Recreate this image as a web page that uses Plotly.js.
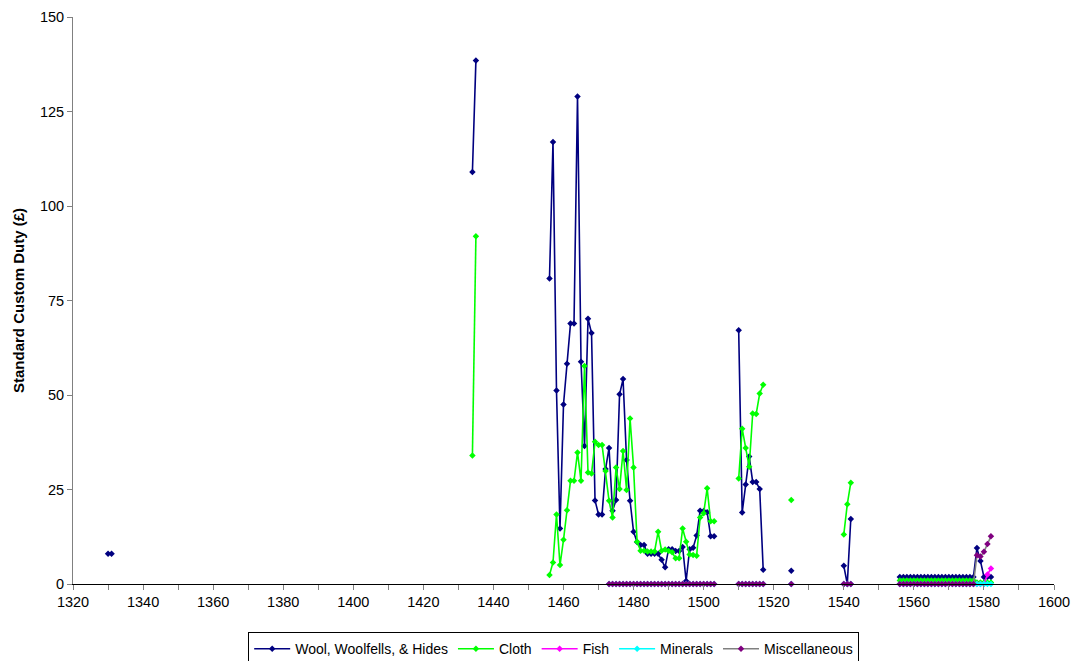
<!DOCTYPE html>
<html>
<head>
<meta charset="utf-8">
<script src="https://cdn.plot.ly/plotly-3.0.1.min.js"></script>
<style>html,body{margin:0;padding:0;background:#fff;}#chart{width:1082px;height:661px;}</style>
</head>
<body>
<div id="chart"></div>
<script>
// ---- Data ----
const woolYears = [1330,1331,1434,1435,
  1456,1457,1458,1459,1460,1461,1462,1463,1464,1465,1466,1467,1468,1469,1470,1471,1472,1473,1474,1475,1476,1477,1478,1479,1480,1481,1482,1483,1484,1485,1486,1487,1488,1489,1490,1491,1492,1493,1494,1495,1496,1497,1498,1499,1500,1501,1502,1503,
  1510,1511,1512,1513,1514,1515,1516,1517,1525,1540,1541,1542,
  1556,1557,1558,1559,1560,1561,1562,1563,1564,1565,1566,1567,1568,1569,1570,1571,1572,1573,1574,1575,1576,1577,1578,1579,1580,1581,1582];
const woolValues = [8,8,109,138.5,
  80.8,116.9,51.2,14.7,47.5,58.3,68.9,68.9,129,58.8,36.5,70.2,66.4,22.1,18.4,18.4,30.4,36.0,19.4,22.2,50.2,54.2,32.8,22.0,13.8,11.1,10.3,10.3,8.0,8.0,8.0,8.0,6.4,4.4,9.2,9.2,8.7,8.7,9.8,0.8,9.2,9.6,12.8,19.4,19.3,19.0,12.6,12.6,
  67.1,18.9,26.3,33.7,27.0,27.0,25.1,3.8,3.5,4.8,0,17.2,
  1.85,1.85,1.85,1.85,1.85,1.85,1.85,1.85,1.85,1.85,1.85,1.85,1.85,1.85,1.85,1.85,1.85,1.85,1.85,1.85,1.85,1.85,9.5,6.1,1.85,1.85,1.85];

const clothYears = [1434,1435,
  1456,1457,1458,1459,1460,1461,1462,1463,1464,1465,1466,1467,1468,1469,1470,1471,1472,1473,1474,1475,1476,1477,1478,1479,1480,1481,1482,1483,1484,1485,1486,1487,1488,1489,1490,1491,1492,1493,1494,1495,1496,1497,1498,1499,1500,1501,1502,1503,
  1510,1511,1512,1513,1514,1515,1516,1517,1525,1540,1541,1542,
  1556,1557,1558,1559,1560,1561,1562,1563,1564,1565,1566,1567,1568,1569,1570,1571,1572,1573,1574,1575,1576,1577,1578,1579,1580,1581,1582];
const clothValues = [34,92,
  2.4,5.7,18.4,5.0,11.7,19.5,27.3,27.3,34.8,27.3,57.7,29.5,29.2,37.6,36.8,36.8,29.9,22.0,17.6,30.8,25.1,35.2,24.9,43.8,30.8,11.2,8.8,8.8,8.6,8.6,8.6,13.8,8.8,9.1,8.7,8.4,6.8,6.8,14.7,11.2,7.8,7.7,7.5,17.6,18.7,25.3,16.6,16.6,
  27.9,41.1,36.0,31.0,45.1,45.0,50.4,52.7,22.2,13.1,21.1,26.8,
  0.9,0.9,0.9,0.9,0.9,0.9,0.9,0.9,0.9,0.9,0.9,0.9,0.9,0.9,0.9,0.9,0.9,0.9,0.9,0.9,0.9,0.9,0.4,0.4,0.4,0.4,0.4];

const minorYears = [1473,1474,1475,1476,1477,1478,1479,1480,1481,1482,1483,1484,1485,1486,1487,1488,1489,1490,1491,1492,1493,1494,1495,1496,1497,1498,1499,1500,1501,1502,1503,
  1510,1511,1512,1513,1514,1515,1516,1517,1525,1540,1541,1542,
  1556,1557,1558,1559,1560,1561,1562,1563,1564,1565,1566,1567,1568,1569,1570,1571,1572,1573,1574,1575,1576,1577,1578,1579,1580,1581,1582];
const fishValues = [0,0,0,0,0,0,0,0,0,0,0,0,0,0,0,0,0,0,0,0,0,0,0,0,0,0,0,0,0,0,0,
  0,0,0,0,0,0,0,0,0,0,0,0,
  0,0,0,0,0,0,0,0,0,0,0,0,0,0,0,0,0,0,0,0,0,0,0,0,0,2.5,4.1];
const mineralValues = [0,0,0,0,0,0,0,0,0,0,0,0,0,0,0,0,0,0,0,0,0,0,0,0,0,0,0,0,0,0,0,
  0,0,0,0,0,0,0,0,0,0,0,0,
  0,0,0,0,0,0,0,0,0,0,0,0,0,0,0,0,0,0,0,0,0,0,0,0,0,0,0];
const miscValues = [0,0,0,0,0,0,0,0,0,0,0,0,0,0,0,0,0,0,0,0,0,0,0,0,0,0,0,0,0,0,0,
  0,0,0,0,0,0,0,0,0,0,0,0,
  0,0,0,0,0,0,0,0,0,0,0,0,0,0,0,0,0,0,0,0,0,0,7.6,7.3,8.5,10.6,12.6];

const seriesNames = ['Wool, Woolfells, & Hides','Cloth','Fish','Minerals','Miscellaneous'];
const xTickVals = [1320,1340,1360,1380,1400,1420,1440,1460,1480,1500,1520,1540,1560,1580,1600];
const yTickVals = [0,25,50,75,100,125,150];

// break lines where years are not consecutive
function withGaps(years, vals){
  const x=[], y=[];
  for(let i=0;i<years.length;i++){
    if(i>0 && years[i]-years[i-1]>1){ x.push(null); y.push(null); }
    x.push(years[i]); y.push(vals[i]);
  }
  return {x, y};
}

const FONT = 'Liberation Sans, Arial, sans-serif';
function mk(name, years, vals, lineColor, markerColor){
  const d = withGaps(years, vals);
  return {
    type:'scatter', mode:'lines+markers', name:name,
    x:d.x, y:d.y, connectgaps:false,
    line:{color:lineColor, width:1.6},
    marker:{symbol:'diamond', size:5, color:markerColor, line:{width:0}},
    cliponaxis:false
  };
}

const traces = [
  mk(seriesNames[0], woolYears, woolValues, '#000080', '#000080'),
  mk(seriesNames[1], clothYears, clothValues, '#00FF00', '#00FF00'),
  mk(seriesNames[2], minorYears, fishValues, '#FF00FF', '#FF00FF'),
  mk(seriesNames[3], minorYears, mineralValues, '#00FFFF', '#00FFFF'),
  mk(seriesNames[4], minorYears, miscValues, '#808080', '#800080')
];

const layout = {
  width:1082, height:661,
  margin:{l:73, r:28, t:17, b:77, autoexpand:false},
  paper_bgcolor:'#fff', plot_bgcolor:'#fff',
  font:{family:FONT, size:14, color:'#000'},
  showlegend:true,
  legend:{orientation:'h', x:0.49, xanchor:'center', y:-0.085, yanchor:'top',
    bordercolor:'#000', borderwidth:1, font:{family:FONT, size:14, color:'#000'},
    itemwidth:36, tracegroupgap:0},
  xaxis:{range:[1320,1600], tickmode:'array', tickvals:xTickVals,
    ticks:'outside', ticklen:5, tickwidth:1, tickcolor:'#808080',
    minor:{tickvals:[1330,1350,1370,1390,1410,1430,1450,1470,1490,1510,1530,1550,1570,1590], ticks:'outside', ticklen:5, tickwidth:1, tickcolor:'#808080'},
    showline:true, linecolor:'#000', linewidth:1, showgrid:false, zeroline:false,
    tickfont:{family:FONT, size:14.5, color:'#000'}, fixedrange:true},
  yaxis:{range:[0,150], tickmode:'array', tickvals:yTickVals,
    ticks:'outside', ticklen:5, tickwidth:1, tickcolor:'#808080',
    showline:true, linecolor:'#808080', linewidth:1, showgrid:false, zeroline:false,
    tickfont:{family:FONT, size:14.5, color:'#000'},
    title:{text:'<b>Standard Custom Duty (£)</b>', font:{family:FONT, size:15, color:'#000'}, standoff:11},
    fixedrange:true}
};

Plotly.newPlot('chart', traces, layout, {displayModeBar:false, staticPlot:true});
</script>
</body>
</html>
